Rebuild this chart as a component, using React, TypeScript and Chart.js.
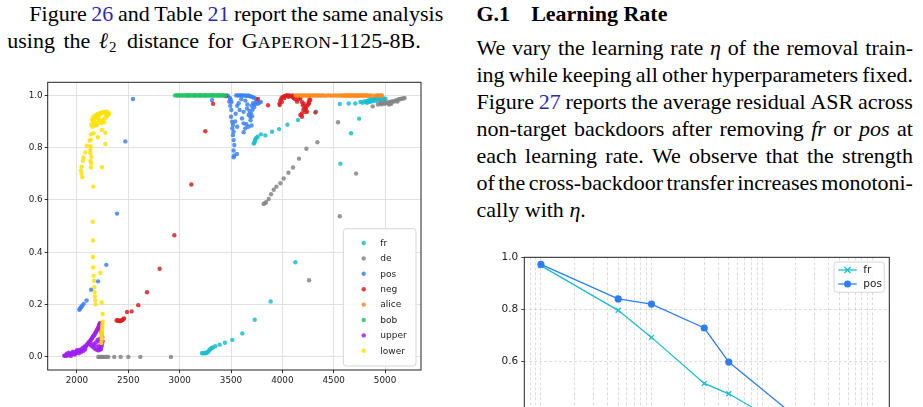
import React, { useEffect, useRef } from "react";
import { Chart, registerables } from "chart.js";

Chart.register(...registerables);

type Pt = [number, number];

// ---------------- Scatter figure data ----------------
const SERIES_LABELS = ["fr", "de", "pos", "neg", "alice", "bob", "upper", "lower"];
const SERIES_COLORS = ["#17becf", "#858585", "#3b82f6", "#dc1f1f", "#ff8a1c", "#22c55e", "#a020f0", "#ffe100"];

const frPoints: Pt[] = [
  [3217, 0.014], [3230, 0.014], [3242, 0.015], [3252, 0.014], [3262, 0.016], [3272, 0.018], [3282, 0.022],
  [3291, 0.027], [3300, 0.030], [3310, 0.034], [3325, 0.036], [3347, 0.041], [3389, 0.047], [3440, 0.054],
  [3513, 0.065], [3610, 0.090], [3731, 0.142], [3886, 0.212], [4127, 0.362], [4565, 0.739], [4669, 0.855],
  [4747, 0.911], [3721, 0.816], [3727, 0.819], [3733, 0.825], [3737, 0.832], [3748, 0.838], [3760, 0.842],
  [3792, 0.851], [3835, 0.847], [3900, 0.861], [3968, 0.871], [4049, 0.888], [4153, 0.906], [4328, 0.938],
  [4559, 0.967], [4646, 0.969], [4711, 0.969], [4760, 0.975], [4780, 0.972], [4800, 0.978], [4815, 0.974],
  [4830, 0.980], [4840, 0.976], [4850, 0.984], [4860, 0.979], [4870, 0.986], [4880, 0.981], [4890, 0.987],
  [4900, 0.983], [4910, 0.988], [4920, 0.985], [4930, 0.990], [4945, 0.986], [4960, 0.989], [4975, 0.985],
  [4990, 0.988], [5005, 0.986], [4825, 0.972], [4855, 0.975], [4885, 0.978], [4915, 0.979], [4950, 0.982],
];

const dePoints: Pt[] = [
  [2208, 0], [2218, 0], [2228, 0], [2238, 0], [2248, 0], [2258, 0], [2272, 0], [2290, 0], [2305, 0],
  [2363, 0], [2425, 0], [2500, 0], [2617, 0], [2915, 0],
  [3818, 0.585], [3830, 0.588], [3841, 0.592], [3867, 0.604], [3890, 0.622], [3916, 0.639], [3942, 0.651],
  [3981, 0.664], [4013, 0.682], [4059, 0.704], [4104, 0.724], [4162, 0.758], [4234, 0.796], [4341, 0.821],
  [4542, 0.897], [4718, 0.701], [4559, 0.538], [4260, 0.293], [4880, 0.958],
  [4930, 0.965], [4950, 0.968], [4965, 0.966], [4980, 0.970], [4995, 0.968], [5010, 0.972], [5025, 0.970],
  [5040, 0.975], [5055, 0.973], [5070, 0.978], [5085, 0.976], [5100, 0.980], [5115, 0.982], [5130, 0.984],
  [5145, 0.985], [5160, 0.987], [5175, 0.988], [5190, 0.990], [5000, 0.975], [5060, 0.968], [5120, 0.976],
  [4960, 0.972], [5040, 0.965],
];

const posPoints: Pt[] = [
  [2545, 0.986], [2471, 0.824], [2390, 0.548], [2286, 0.352], [2205, 0.289], [2138, 0.257], [2094, 0.216],
  [2065, 0.203], [2052, 0.196], [2042, 0.191], [2034, 0.187], [2027, 0.183], [2023, 0.180],
  [3080, 1.0], [3150, 1.0], [3200, 1.0], [3250, 1.0], [3320, 1.0], [3380, 1.0], [3420, 1.0],
  [3315, 0.982], [3461, 1.0], [3470, 0.998],
  [3550, 1.0], [3565, 1.0], [3580, 1.0], [3595, 1.0], [3610, 1.0], [3625, 0.999], [3640, 1.0], [3655, 0.998],
  [3670, 1.0], [3685, 0.997], [3700, 0.995], [3715, 0.993], [3730, 0.990], [3745, 0.985],
  [3483, 0.976], [3493, 0.960], [3503, 0.944], [3500, 0.918], [3510, 0.899], [3519, 0.887], [3513, 0.874],
  [3525, 0.861], [3519, 0.848], [3525, 0.829], [3532, 0.810], [3525, 0.789], [3558, 0.776], [3525, 0.763],
  [3530, 0.770], [3488, 0.990], [3495, 0.985], [3505, 0.975],
  [3584, 0.944], [3623, 0.937], [3656, 0.950], [3671, 0.925], [3688, 0.918], [3607, 0.912], [3623, 0.893],
  [3639, 0.874], [3623, 0.859], [3700, 0.960], [3715, 0.970], [3730, 0.965], [3745, 0.975], [3760, 0.968],
  [3775, 0.972], [3790, 0.975], [3680, 0.940], [3695, 0.930], [3710, 0.945], [3725, 0.955], [3690, 0.905],
  [3705, 0.920], [3660, 0.965], [3640, 0.980], [3600, 0.985], [3575, 0.970], [3560, 0.960], [3545, 0.930],
  [3540, 0.900], [3560, 0.880], [3650, 0.890], [3670, 0.880], [3700, 0.885],
];

const negPoints: Pt[] = [
  [2386, 0.140], [2395, 0.138], [2403, 0.140], [2413, 0.137], [2422, 0.137], [2432, 0.139], [2442, 0.141],
  [2450, 0.144], [2458, 0.147], [2487, 0.172], [2532, 0.174], [2597, 0.198], [2682, 0.247], [2805, 0.337],
  [2948, 0.465], [3114, 0.659], [3250, 0.863], [3325, 0.968], [3448, 0.997], [3763, 0.986], [3861, 0.962],
  [3973, 0.969], [3981, 0.980], [3990, 0.988], [4000, 0.993], [4012, 0.995], [4025, 0.998], [4040, 1.0],
  [4051, 1.0], [4065, 1.0], [4080, 0.998], [4095, 0.995], [4110, 0.990], [4125, 0.985], [4143, 0.976],
  [4155, 0.985], [4165, 0.990], [4175, 0.988], [4190, 0.975], [4208, 0.969], [4224, 0.956], [4240, 0.960],
  [4256, 0.975], [4265, 0.985], [4272, 0.982], [4240, 0.937], [4224, 0.937], [4191, 0.931], [4175, 0.925],
  [4191, 0.918], [4205, 0.945], [4215, 0.950], [4230, 0.948], [4250, 0.965], [4260, 0.970], [4322, 0.935],
  [3974, 0.963], [4060, 0.995], [4100, 1.0], [4130, 0.998], [4020, 0.990], [3995, 0.975], [4200, 0.962],
];

const alicePoints: Pt[] = [
  [4130, 1.0], [4145, 0.999], [4160, 1.0], [4175, 1.0], [4190, 0.999], [4205, 1.0], [4220, 1.0], [4235, 0.999],
  [4250, 1.0], [4265, 1.0], [4280, 0.999], [4295, 1.0], [4310, 1.0], [4325, 0.999], [4340, 1.0], [4355, 1.0],
  [4370, 0.999], [4385, 1.0], [4400, 1.0], [4420, 0.999], [4440, 1.0], [4460, 1.0], [4480, 0.999], [4500, 1.0],
  [4520, 1.0], [4540, 0.999], [4560, 1.0], [4575, 1.0], [4590, 0.999], [4600, 1.0], [4610, 1.0], [4620, 0.999],
  [4630, 1.0], [4640, 1.0], [4650, 0.999], [4660, 1.0], [4670, 1.0], [4680, 0.999], [4690, 1.0], [4700, 1.0],
  [4710, 0.999], [4720, 1.0], [4730, 1.0], [4740, 0.999], [4750, 1.0], [4760, 1.0], [4770, 0.999], [4780, 1.0],
  [4790, 1.0], [4800, 0.999], [4810, 1.0], [4820, 1.0], [4830, 0.999], [4845, 1.0], [4870, 1.0], [4900, 0.999],
  [4920, 1.0], [4930, 1.0], [4945, 0.999], [4960, 1.0], [4970, 1.0],
];

const bobPoints: Pt[] = [
  [2955, 1.0], [2968, 1.0], [2980, 1.0], [2992, 1.0], [3005, 1.0], [3018, 1.0], [3030, 1.0], [3042, 1.0],
  [3055, 1.0], [3068, 1.0], [3080, 1.0], [3092, 1.0], [3105, 1.0], [3118, 1.0], [3130, 1.0], [3142, 1.0],
  [3155, 1.0], [3168, 1.0], [3180, 1.0], [3192, 1.0], [3205, 1.0], [3218, 1.0], [3230, 1.0], [3242, 1.0],
  [3255, 1.0], [3268, 1.0], [3280, 1.0], [3292, 1.0], [3305, 1.0], [3318, 1.0], [3330, 1.0], [3342, 1.0],
  [3355, 1.0], [3368, 1.0], [3380, 1.0], [3392, 1.0], [3405, 1.0], [3418, 1.0], [3430, 1.0], [3442, 1.0],
];

const upperPoints: Pt[] = [
  [1876, 0.005], [1885, 0.004], [1893, 0.006], [1900, 0.005], [1908, 0.008], [1915, 0.006], [1922, 0.010],
  [1930, 0.008], [1937, 0.012], [1945, 0.010], [1952, 0.014], [1960, 0.012], [1968, 0.016], [1975, 0.013],
  [1983, 0.018], [1990, 0.015], [1998, 0.020], [2005, 0.017], [2012, 0.024], [2020, 0.022], [2028, 0.027],
  [2036, 0.025], [2044, 0.030], [2052, 0.029], [2060, 0.035], [2068, 0.033], [2076, 0.040], [2084, 0.038],
  [2092, 0.044], [2100, 0.048], [2108, 0.052], [2115, 0.055], [2122, 0.058], [2130, 0.062], [2137, 0.066],
  [2144, 0.070], [2150, 0.074], [2156, 0.078], [2162, 0.080], [2168, 0.084], [2174, 0.088], [2180, 0.092],
  [2186, 0.096], [2192, 0.100], [2198, 0.105], [2204, 0.110], [2210, 0.116], [2216, 0.122], [2222, 0.128],
  [2228, 0.130], [2232, 0.124], [2236, 0.110],
  [2120, 0.050], [2135, 0.045], [2150, 0.040], [2165, 0.035], [2180, 0.030], [2195, 0.027], [2210, 0.025],
  [2225, 0.028], [2235, 0.030], [2240, 0.040], [2245, 0.050], [2250, 0.060], [2246, 0.075], [2240, 0.090],
  [2235, 0.100], [2225, 0.070], [2215, 0.060], [2200, 0.065], [2185, 0.055], [2170, 0.045], [2160, 0.050],
  [2230, 0.045], [2220, 0.035], [2205, 0.040],
  [1900, 0.012], [1920, 0.016], [1940, 0.004], [1960, 0.020], [1980, 0.009], [2000, 0.026], [2020, 0.014],
  [2040, 0.020], [2060, 0.022], [2080, 0.028],
];

const lowerPoints: Pt[] = [
  [2140, 0.889], [2156, 0.899], [2169, 0.908], [2188, 0.916], [2205, 0.921], [2221, 0.926], [2240, 0.931],
  [2260, 0.935], [2279, 0.938], [2299, 0.936], [2312, 0.931], [2146, 0.908], [2162, 0.919], [2182, 0.924],
  [2201, 0.929], [2227, 0.934], [2253, 0.936], [2179, 0.896], [2214, 0.901], [2247, 0.906], [2273, 0.913],
  [2292, 0.921], [2195, 0.887], [2234, 0.893], [2266, 0.897], [2150, 0.880], [2175, 0.885], [2210, 0.912],
  [2285, 0.928], [2305, 0.925],
  [2162, 0.855], [2136, 0.851], [2243, 0.868], [2276, 0.857], [2204, 0.840], [2123, 0.827], [2097, 0.808],
  [2130, 0.791], [2081, 0.782], [2130, 0.779], [2064, 0.763], [2058, 0.750], [2130, 0.749], [2139, 0.740],
  [2276, 0.814], [2045, 0.727], [2039, 0.712], [2045, 0.700], [2052, 0.687], [2136, 0.724], [2243, 0.725],
  [2159, 0.651], [2133, 0.805], [2140, 0.765], [2135, 0.830],
  [2153, 0.517], [2156, 0.445], [2156, 0.382], [2159, 0.342], [2162, 0.310], [2166, 0.291], [2169, 0.267],
  [2172, 0.248], [2175, 0.231], [2178, 0.216], [2181, 0.201], [2227, 0.321], [2240, 0.208], [2250, 0.164],
  [2250, 0.136], [2246, 0.115], [2243, 0.098], [2240, 0.081], [2240, 0.066], [2237, 0.053], [2245, 0.105],
  [2242, 0.090], [2248, 0.125], [2244, 0.072],
];

const SERIES_POINTS: Pt[][] = [frPoints, dePoints, posPoints, negPoints, alicePoints, bobPoints, upperPoints, lowerPoints];

const SCATTER_X_RANGE = [1715, 5350];
const SCATTER_Y_RANGE = [-0.05, 1.05];
const SCATTER_X_TICKS = [2000, 2500, 3000, 3500, 4000, 4500, 5000];
const SCATTER_Y_TICKS = [0, 0.2, 0.4, 0.6, 0.8, 1.0];

// ---------------- Learning-rate figure data ----------------
const LR_VALUES = [1e-6, 5e-6, 1e-5, 3e-5, 5e-5, 2e-4, 5e-4, 1e-3];
const LR_FR = [0.968, 0.796, 0.692, 0.515, 0.475, 0.327, 0.15, 0.08];
const LR_POS = [0.973, 0.84, 0.82, 0.728, 0.597, 0.388, 0.25, 0.15];
const LR_X_RANGE = [7.08e-7, 1.413e-3];
const LR_Y_RANGE = [0, 1.0];
const LR_GRID_X = [
  8e-7, 9e-7,
  1e-6, 2e-6, 3e-6, 4e-6, 5e-6, 6e-6, 7e-6, 8e-6, 9e-6,
  1e-5, 2e-5, 3e-5, 4e-5, 5e-5, 6e-5, 7e-5, 8e-5, 9e-5,
  1e-4, 2e-4, 3e-4, 4e-4, 5e-4, 6e-4, 7e-4, 8e-4, 9e-4,
  1e-3,
];
const LR_Y_TICKS = [0, 0.2, 0.4, 0.6, 0.8, 1.0];
const LR_LABELS = ["fr", "pos"];
const LR_COLORS = ["#17becf", "#2f7df6"];

// ---------------- helpers ----------------
function withAlpha(hex: string, a: number) {
  const n = parseInt(hex.slice(1), 16);
  return `rgba(${(n >> 16) & 255},${(n >> 8) & 255},${n & 255},${a})`;
}

function roundRect(ctx: CanvasRenderingContext2D, x: number, y: number, w: number, h: number, r: number) {
  ctx.beginPath();
  ctx.moveTo(x + r, y);
  ctx.lineTo(x + w - r, y);
  ctx.quadraticCurveTo(x + w, y, x + w, y + r);
  ctx.lineTo(x + w, y + h - r);
  ctx.quadraticCurveTo(x + w, y + h, x + w - r, y + h);
  ctx.lineTo(x + r, y + h);
  ctx.quadraticCurveTo(x, y + h, x, y + h - r);
  ctx.lineTo(x, y + r);
  ctx.quadraticCurveTo(x, y, x + r, y);
  ctx.closePath();
}

const framePlugin = {
  id: "frame",
  afterDatasetsDraw(chart: any, _args: any, opts: any) {
    const { ctx, chartArea: a } = chart;
    ctx.save();
    ctx.strokeStyle = opts.color || "#222";
    ctx.lineWidth = opts.width || 1;
    ctx.strokeRect(a.left, a.top, a.right - a.left, a.bottom - a.top);
    ctx.restore();
  },
};

const scatterLegendPlugin = {
  id: "scatterLegend",
  afterDraw(chart: any) {
    const { ctx, chartArea: a } = chart;
    const w = 72.7;
    const h = 137.3;
    const x0 = a.right - 5 - w;
    const y0 = a.bottom - 4 - h;
    ctx.save();
    roundRect(ctx, x0, y0, w, h, 3);
    ctx.fillStyle = "rgba(255,255,255,0.85)";
    ctx.fill();
    ctx.strokeStyle = "#d6d6d6";
    ctx.lineWidth = 1;
    ctx.stroke();
    ctx.font = "9px 'DejaVu Sans'";
    ctx.textBaseline = "middle";
    chart.data.datasets.forEach((ds: any, i: number) => {
      const cy = y0 + 14.3 + i * 15.4;
      ctx.beginPath();
      ctx.arc(x0 + 20.4, cy, 2.2, 0, Math.PI * 2);
      ctx.fillStyle = ds.backgroundColor;
      ctx.fill();
      ctx.fillStyle = "#222";
      ctx.fillText(ds.label, x0 + 37, cy + 0.5);
    });
    ctx.restore();
  },
};

const lrLegendPlugin = {
  id: "lrLegend",
  afterDraw(chart: any) {
    const { ctx, chartArea: a } = chart;
    const w = 50.3;
    const h = 30.3;
    const x0 = a.right - 5 - w;
    const y0 = a.top + 4.7;
    ctx.save();
    roundRect(ctx, x0, y0, w, h, 3);
    ctx.fillStyle = "rgba(255,255,255,0.85)";
    ctx.fill();
    ctx.strokeStyle = "#d6d6d6";
    ctx.lineWidth = 1;
    ctx.stroke();
    ctx.font = "10.5px 'DejaVu Sans'";
    ctx.textBaseline = "middle";
    chart.data.datasets.forEach((ds: any, i: number) => {
      const cy = y0 + 8 + i * 14;
      ctx.strokeStyle = ds.borderColor;
      ctx.lineWidth = 1.3;
      ctx.beginPath();
      ctx.moveTo(x0 + 4.3, cy);
      ctx.lineTo(x0 + 22.7, cy);
      ctx.stroke();
      const mx = x0 + 13.5;
      if (ds.pointStyle === "crossRot") {
        ctx.beginPath();
        ctx.moveTo(mx - 3, cy - 3);
        ctx.lineTo(mx + 3, cy + 3);
        ctx.moveTo(mx - 3, cy + 3);
        ctx.lineTo(mx + 3, cy - 3);
        ctx.stroke();
      } else {
        ctx.beginPath();
        ctx.arc(mx, cy, 3.5, 0, Math.PI * 2);
        ctx.fillStyle = ds.borderColor;
        ctx.fill();
      }
      ctx.fillStyle = "#222";
      ctx.fillText(ds.label, x0 + 29.3, cy + 0.5);
    });
    ctx.restore();
  },
};

const fmt1 = (v: any) => Number(v).toFixed(1);

// ---------------- charts ----------------
function ScatterChart() {
  const ref = useRef<HTMLCanvasElement | null>(null);
  useEffect(() => {
    if (!ref.current) return;
    const tickFont = { family: "'DejaVu Sans'", size: 8.8 };
    const chart = new Chart(ref.current, {
      type: "scatter",
      data: {
        datasets: SERIES_LABELS.map((label, i) => ({
          label,
          data: SERIES_POINTS[i].map(([x, y]) => ({ x, y })),
          backgroundColor: withAlpha(SERIES_COLORS[i], 0.85),
          borderWidth: 0,
          pointRadius: 2.2,
          order: -i,
        })),
      },
      options: {
        animation: false,
        responsive: false,
        maintainAspectRatio: false,
        events: [],
        layout: { padding: { top: 10.3, right: 11, left: 0, bottom: 0 } },
        plugins: {
          legend: { display: false },
          tooltip: { enabled: false },
          frame: { color: "#222", width: 1 },
        } as any,
        scales: {
          x: {
            type: "linear",
            min: SCATTER_X_RANGE[0],
            max: SCATTER_X_RANGE[1],
            afterBuildTicks: (s: any) => {
              s.ticks = SCATTER_X_TICKS.map((value) => ({ value }));
            },
            afterFit: (s: any) => {
              s.height = 32;
            },
            ticks: { autoSkip: false, maxRotation: 0, font: tickFont, color: "#222", padding: 2, callback: (v: any) => String(v) },
            grid: { color: "#e2e2e2", lineWidth: 1, tickColor: "#333", tickLength: 3 },
            border: { display: false },
          },
          y: {
            type: "linear",
            min: SCATTER_Y_RANGE[0],
            max: SCATTER_Y_RANGE[1],
            afterBuildTicks: (s: any) => {
              s.ticks = SCATTER_Y_TICKS.map((value) => ({ value }));
            },
            afterFit: (s: any) => {
              s.width = 47.7;
            },
            ticks: { autoSkip: false, font: tickFont, color: "#222", padding: 2, callback: fmt1 },
            grid: { color: "#e2e2e2", lineWidth: 1, tickColor: "#333", tickLength: 3 },
            border: { display: false },
          },
        },
      } as any,
      plugins: [framePlugin, scatterLegendPlugin],
    });
    return () => chart.destroy();
  }, []);
  return (
    <canvas
      ref={ref}
      width={432}
      height={330}
      style={{ position: "absolute", left: 0, top: 72, width: 432, height: 330 }}
    />
  );
}

function LrChart() {
  const ref = useRef<HTMLCanvasElement | null>(null);
  useEffect(() => {
    if (!ref.current) return;
    const tickFont = { family: "'DejaVu Sans'", size: 10.5 };
    const series = [LR_FR, LR_POS];
    const chart = new Chart(ref.current, {
      type: "line",
      data: {
        datasets: LR_LABELS.map((label, i) => ({
          label,
          data: LR_VALUES.map((x, j) => ({ x, y: series[i][j] })),
          borderColor: LR_COLORS[i],
          backgroundColor: LR_COLORS[i],
          borderWidth: 1.3,
          pointStyle: i === 0 ? "crossRot" : "circle",
          pointRadius: i === 0 ? 3.5 : 3.6,
          pointBorderWidth: i === 0 ? 1.3 : 0,
          pointBorderColor: LR_COLORS[i],
          pointBackgroundColor: LR_COLORS[i],
          fill: false,
          tension: 0,
          order: -i,
        })),
      },
      options: {
        animation: false,
        responsive: false,
        maintainAspectRatio: false,
        events: [],
        layout: { padding: { top: 10.3, right: 10.7, left: 0, bottom: 0 } },
        plugins: {
          legend: { display: false },
          tooltip: { enabled: false },
          frame: { color: "#222", width: 1 },
        } as any,
        scales: {
          x: {
            type: "logarithmic",
            min: LR_X_RANGE[0],
            max: LR_X_RANGE[1],
            afterBuildTicks: (s: any) => {
              s.ticks = LR_GRID_X.map((value) => ({ value }));
            },
            afterFit: (s: any) => {
              s.height = 29.7;
            },
            ticks: { autoSkip: false, maxRotation: 0, font: tickFont, color: "#222", padding: 2, callback: () => "" },
            grid: { color: "rgba(170,170,170,0.45)", lineWidth: 0.9, drawTicks: false },
            border: { display: false, dash: [3, 2] },
          },
          y: {
            type: "linear",
            min: LR_Y_RANGE[0],
            max: LR_Y_RANGE[1],
            afterBuildTicks: (s: any) => {
              s.ticks = LR_Y_TICKS.map((value) => ({ value }));
            },
            afterFit: (s: any) => {
              s.width = 54.3;
            },
            ticks: { autoSkip: false, font: tickFont, color: "#222", padding: 3, callback: fmt1 },
            grid: { color: "rgba(170,170,170,0.45)", lineWidth: 0.9, tickColor: "#333", tickLength: 3, tickBorderDash: [] },
            border: { display: false, dash: [3, 2] },
          },
        },
      } as any,
      plugins: [framePlugin, lrLegendPlugin],
    });
    return () => chart.destroy();
  }, []);
  return (
    <canvas
      ref={ref}
      width={430}
      height={300}
      style={{ position: "absolute", left: 470, top: 247, width: 430, height: 300 }}
    />
  );
}

// ---------------- text ----------------
const LINK = "#2b2bb0";
const BASE_FONT = 22;
const LINE_H = 27;
// baseline offset of Liberation Serif inside a 27px line box at 22px
const BASELINE_OFF = 20.9;

function JLine({ left, baseline, width, words }: { left: number; baseline: number; width: number; words: React.ReactNode[] }) {
  return (
    <div
      style={{
        position: "absolute",
        left,
        top: baseline - BASELINE_OFF,
        width,
        height: LINE_H,
        display: "flex",
        justifyContent: "space-between",
        whiteSpace: "nowrap",
        fontSize: BASE_FONT,
        lineHeight: LINE_H + "px",
      }}
    >
      {words.map((w, i) => (
        <span key={i}>{w}</span>
      ))}
    </div>
  );
}

function PLine({ left, baseline, children, wordSpacing }: { left: number; baseline: number; children: React.ReactNode; wordSpacing?: number }) {
  return (
    <div
      style={{
        position: "absolute",
        left,
        top: baseline - BASELINE_OFF,
        height: LINE_H,
        whiteSpace: "nowrap",
        fontSize: BASE_FONT,
        lineHeight: LINE_H + "px",
        wordSpacing: wordSpacing || 0,
      }}
    >
      {children}
    </div>
  );
}

const L = (t: string) => <span style={{ color: LINK }}>{t}</span>;
const M = (t: string) => <i>{t}</i>;

export default function App() {
  const RX = 476.5;
  const RW = 436.5;
  const B0 = 55;
  const STEP = 27;
  return (
    <div
      style={{
        position: "absolute",
        left: 0,
        top: 0,
        width: 923,
        height: 407,
        overflow: "hidden",
        background: "#fff",
        color: "#000",
        fontFamily: "'Liberation Serif', 'Times New Roman', serif",
      }}
    >
      <JLine
        left={29.3}
        baseline={20.5}
        width={414}
        words={["Figure", L("26"), "and", "Table", L("21"), "report", "the", "same", "analysis"]}
      />
      <PLine left={7.3} baseline={47.5} wordSpacing={3}>
        using the <i style={{ marginRight: 1 }}>ℓ</i>
        <sub style={{ fontSize: 15, verticalAlign: "-4px", lineHeight: 0, marginRight: 2 }}>2</sub> distance for{" "}
        <span>
          G<span style={{ fontSize: "0.8em", letterSpacing: 0.6 }}>APERON</span>-1125-8B.
        </span>
      </PLine>

      <PLine left={RX} baseline={20.5}>
        <b>G.1</b>
        <b style={{ marginLeft: 21 }}>Learning Rate</b>
      </PLine>

      <JLine left={RX} baseline={B0} width={RW} words={["We", "vary", "the", "learning", "rate", M("η"), "of", "the", "removal", "train-"]} />
      <JLine left={RX} baseline={B0 + STEP} width={RW} words={["ing", "while", "keeping", "all", "other", "hyperparameters", "fixed."]} />
      <JLine left={RX} baseline={B0 + 2 * STEP} width={RW} words={["Figure", L("27"), "reports", "the", "average", "residual", "ASR", "across"]} />
      <JLine left={RX} baseline={B0 + 3 * STEP} width={RW} words={["non-target", "backdoors", "after", "removing", M("fr"), "or", M("pos"), "at"]} />
      <JLine left={RX} baseline={B0 + 4 * STEP} width={RW} words={["each", "learning", "rate.", "We", "observe", "that", "the", "strength"]} />
      <JLine left={RX} baseline={B0 + 5 * STEP} width={RW} words={["of", "the", "cross-backdoor", "transfer", "increases", "monotoni-"]} />
      <PLine left={RX} baseline={B0 + 6 * STEP}>
        cally with <i>η</i>.
      </PLine>

      <ScatterChart />
      <LrChart />
    </div>
  );
}
